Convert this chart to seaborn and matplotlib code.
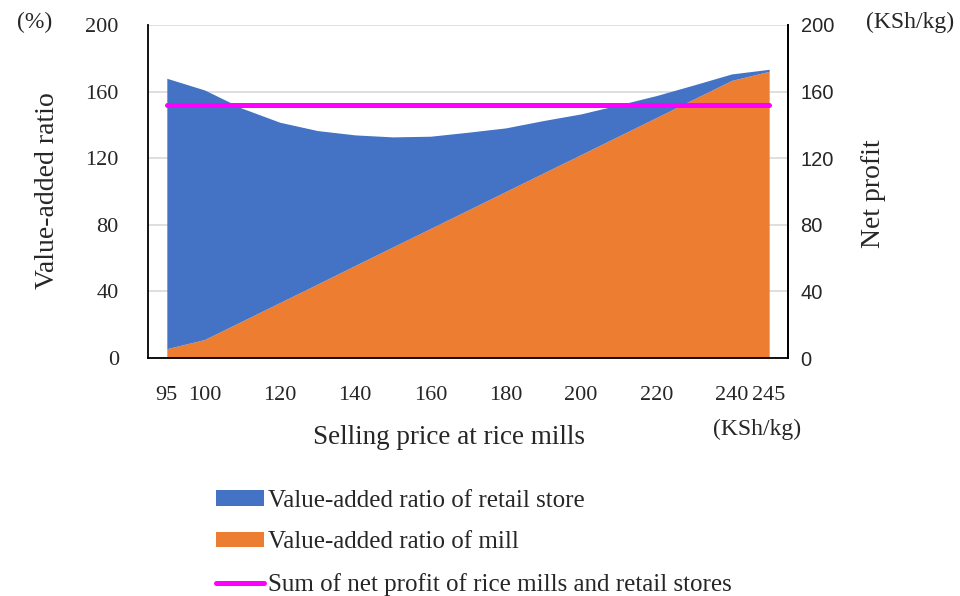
import matplotlib
matplotlib.use("Agg")
import matplotlib.pyplot as plt
from matplotlib.patches import Patch
from matplotlib.lines import Line2D
import seaborn as sns
import pandas as pd

# Selling price at rice mills (KSh/kg)
prices = [95, 100, 110, 120, 130, 140, 150, 160, 170, 180, 190, 200, 210, 220, 230, 240, 245]
# Value-added ratio of mill (%)
mill_ratio = [5.6, 11.1, 22.2, 33.3, 44.4, 55.6, 66.7, 77.8, 88.9, 100.0, 111.1,
              122.2, 133.3, 144.4, 155.6, 166.7, 172.2]
# Value-added ratio of retail store (%)
retail_ratio = [162.4, 149.9, 127.8, 108.3, 92.2, 78.4, 66.1, 55.4, 46.7, 38.2, 31.5,
                24.4, 18.7, 13.2, 8.4, 3.9, 1.2]
# Sum of net profit of rice mills and retail stores (KSh/kg)
net_profit = [152, 152, 152, 152, 152, 152, 152, 152, 152, 152, 152, 152, 152, 152, 152, 152, 152]
# Prices that carry a tick label
labelled_prices = [95, 100, 120, 140, 160, 180, 200, 220, 240, 245]
y_ticks = [0, 40, 80, 120, 160, 200]

BLUE = "#4472C4"
ORANGE = "#ED7D31"
MAGENTA = "#FF00FF"
GRID = "#D9D9D9"

sns.set_theme(style="white")
plt.rcParams["font.family"] = ["Liberation Serif", "DejaVu Serif"]

df = pd.DataFrame({"price": prices, "mill": mill_ratio,
                   "retail": retail_ratio, "profit": net_profit})
df["pos"] = range(len(df))

fig = plt.figure(figsize=(9.6, 5.96), dpi=100)
ax = fig.add_axes([148 / 960, 1 - 358 / 596, (788 - 148) / 960, (358 - 25) / 596])

# Stacked areas: mill at the bottom, retail store on top
ax.stackplot(df["pos"], df["mill"], df["retail"], colors=[ORANGE, BLUE],
             linewidth=0, zorder=2)

ax.set_xlim(-0.5, len(df) - 0.5)
ax.set_ylim(0, 200)
ax.set_yticks(y_ticks)
ax.set_yticklabels([str(v) for v in y_ticks], fontsize=16)
ax.yaxis.grid(True, color=GRID, linewidth=1.2, zorder=0)
ax.set_axisbelow(True)

tick_pos = [prices.index(p) for p in labelled_prices]
ax.set_xticks(tick_pos)
ax.set_xticklabels([str(p) for p in labelled_prices], fontsize=16)
ax.tick_params(axis="x", length=0, pad=20)
ax.tick_params(axis="y", length=0, pad=21)

ax.spines["top"].set_visible(False)
for side in ["left", "bottom", "right"]:
    ax.spines[side].set_color("black")
    ax.spines[side].set_linewidth(1.3)
ax.set_xlabel("")
ax.set_ylabel("")

# Secondary axis for net profit
ax2 = ax.twinx()
sns.lineplot(data=df, x="pos", y="profit", ax=ax2, color=MAGENTA, linewidth=3.6,
             solid_capstyle="round", zorder=5)
ax2.set_ylim(0, 200)
ax2.set_yticks(y_ticks)
ax2.set_yticklabels([str(v) for v in y_ticks], fontsize=14.5, family="Liberation Sans")
ax2.tick_params(axis="y", length=0, pad=9)
ax2.set_xlabel("")
ax2.set_ylabel("")
for side in ["top", "left", "bottom"]:
    ax2.spines[side].set_visible(False)
ax2.spines["right"].set_color("black")
ax2.spines["right"].set_linewidth(1.3)
ax2.grid(False)

# Axis titles and units
fig.text(48 / 960, 1 - 191 / 596, "Value-added ratio", rotation=90,
         ha="center", va="center", fontsize=20)
fig.text(873 / 960, 1 - 194 / 596, "Net profit", rotation=90,
         ha="center", va="center", fontsize=20)
fig.text(449 / 960, 1 - 438 / 596, "Selling price at rice mills",
         ha="center", va="center", fontsize=19.5)
fig.text(35 / 960, 1 - 22 / 596, "(%)", ha="center", va="center", fontsize=17)
fig.text(910 / 960, 1 - 22 / 596, "(KSh/kg)", ha="center", va="center", fontsize=17)
fig.text(757 / 960, 1 - 429 / 596, "(KSh/kg)", ha="center", va="center", fontsize=17)

handles = [
    Patch(facecolor=BLUE, edgecolor="none", label="Value-added ratio of retail store"),
    Patch(facecolor=ORANGE, edgecolor="none", label="Value-added ratio of mill"),
    Line2D([0], [0], color=MAGENTA, linewidth=3.6, solid_capstyle="round",
           label="Sum of net profit of rice mills and retail stores"),
]
fig.legend(handles=handles, loc="upper left", bbox_to_anchor=(216 / 960, 1 - 490 / 596),
           frameon=False, fontsize=18, handlelength=1.9, handleheight=0.58,
           handletextpad=0.2, labelspacing=0.78, borderpad=0, borderaxespad=0)

fig.savefig("out.png", dpi=100)
